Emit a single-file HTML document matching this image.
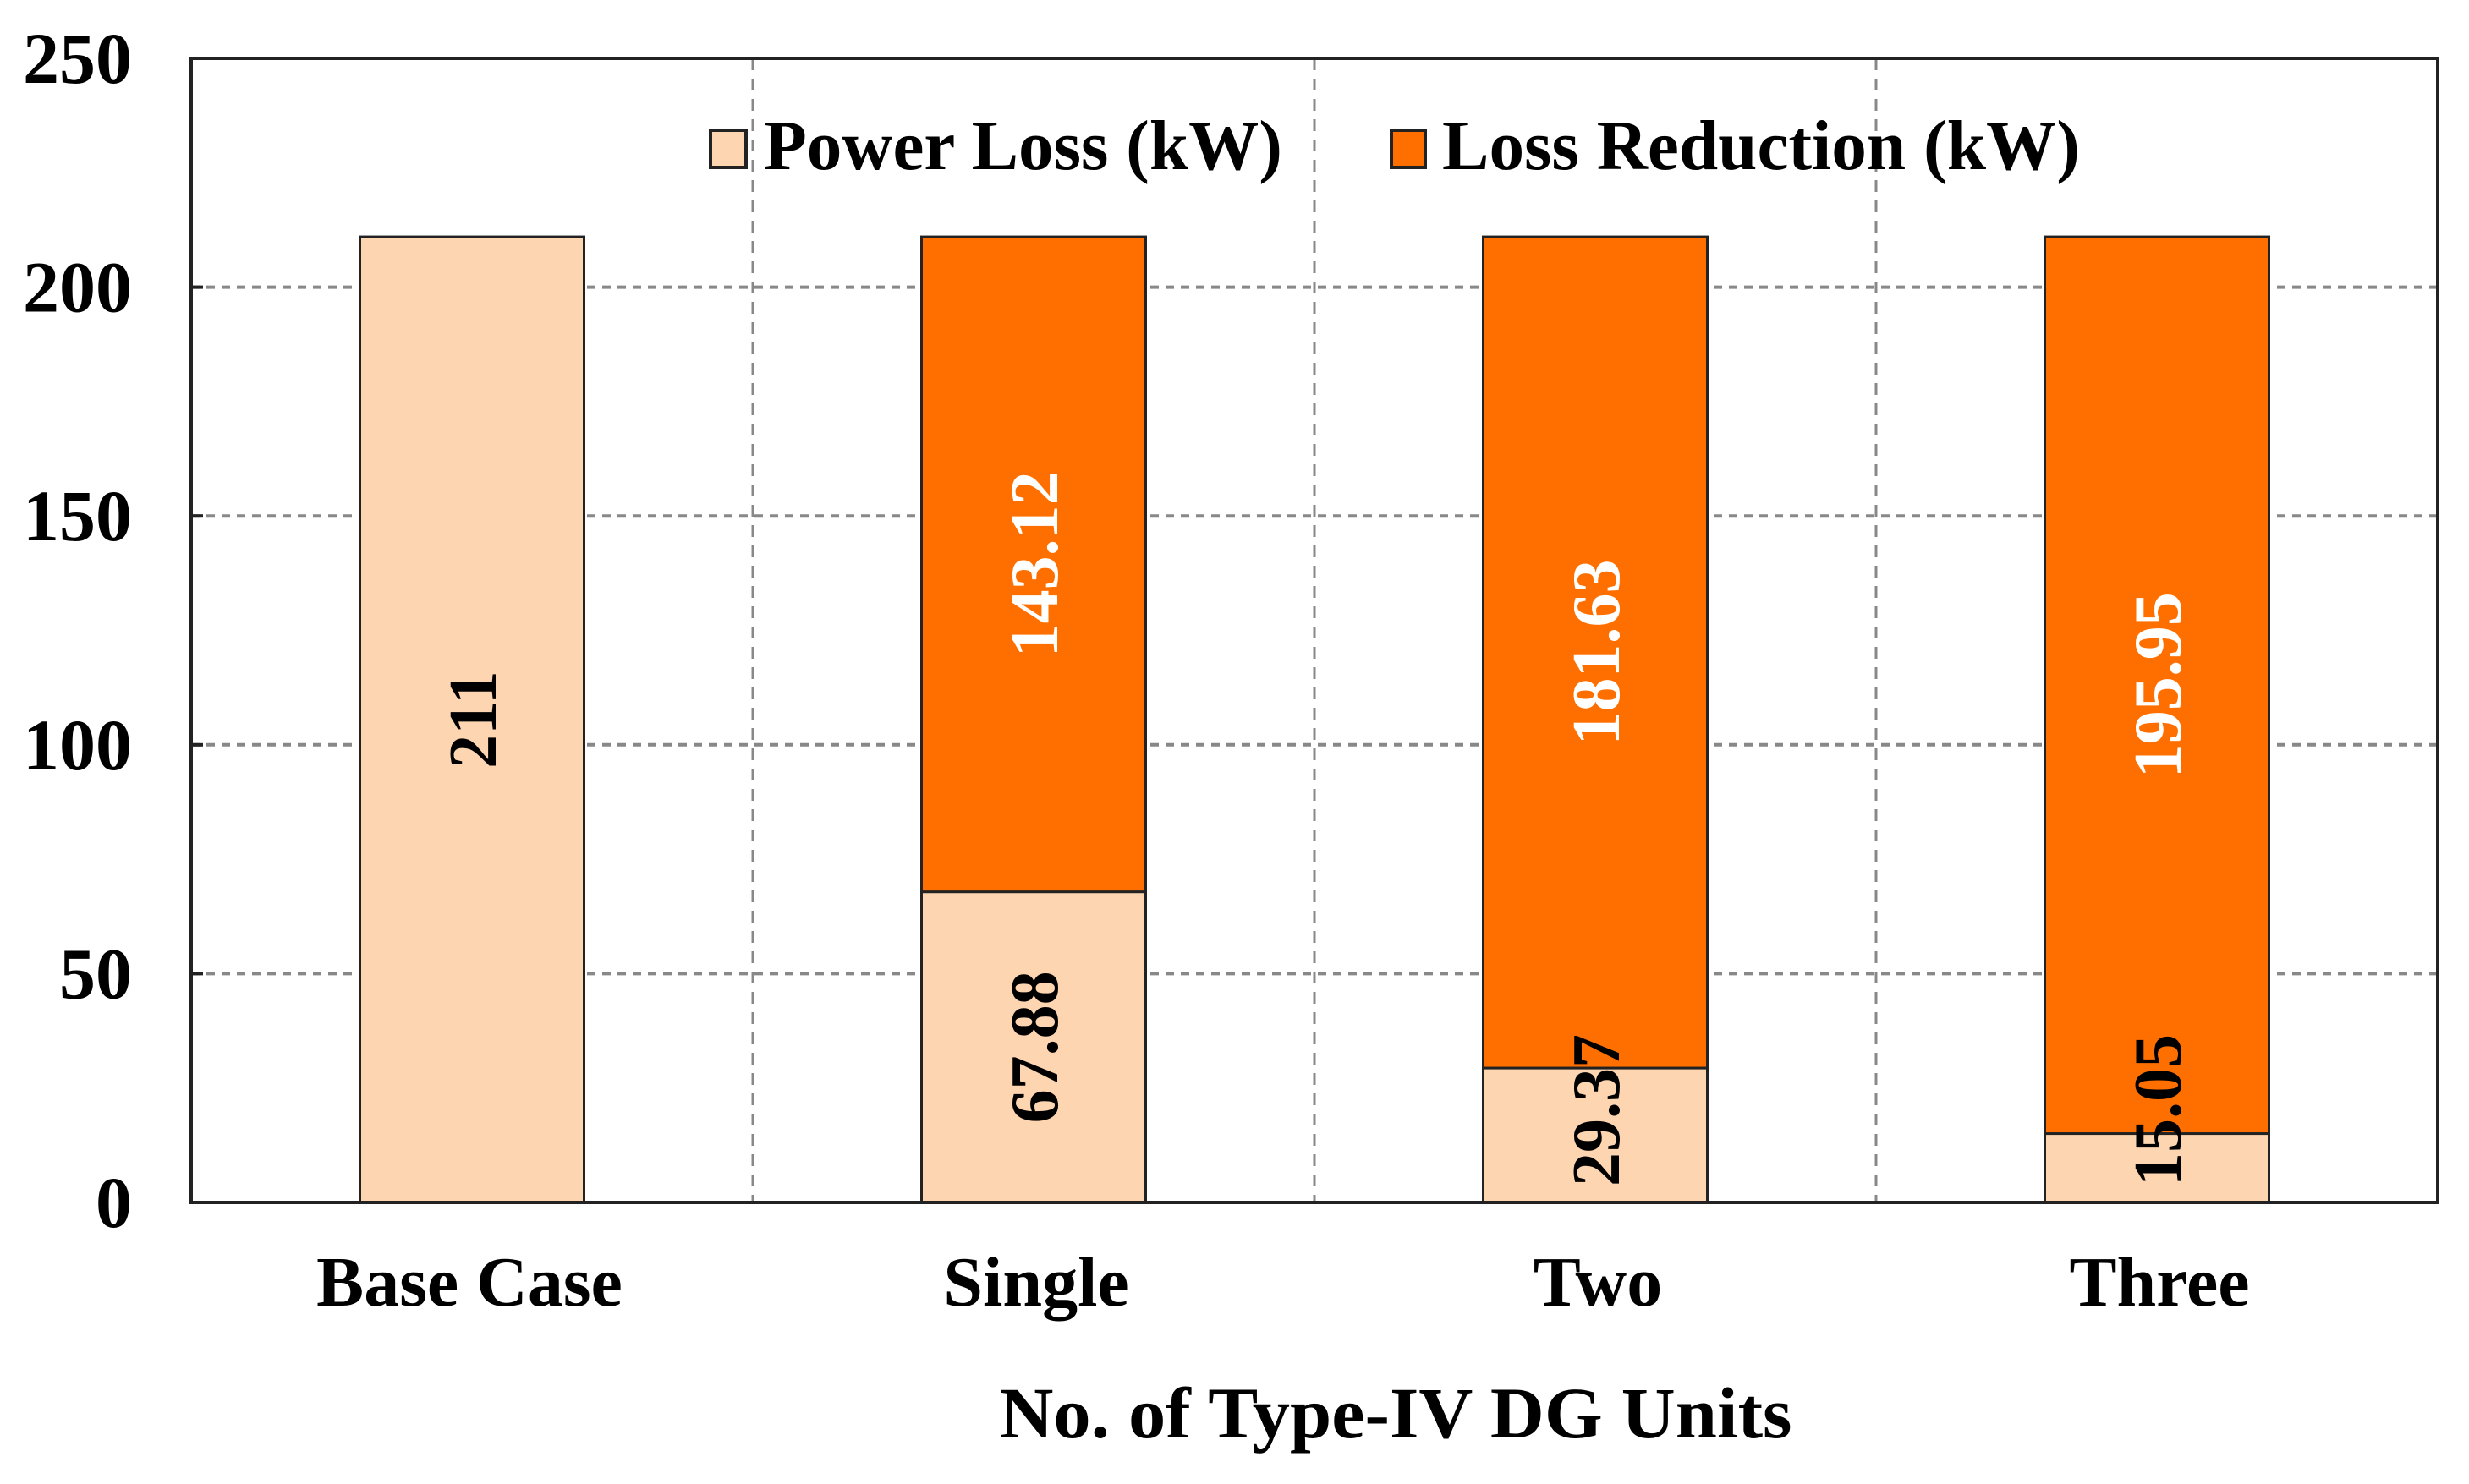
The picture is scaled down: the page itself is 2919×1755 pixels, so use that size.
<!DOCTYPE html>
<html><head><meta charset="utf-8"><style>
html,body{margin:0;padding:0;background:#fff;}
svg{display:block;font-family:"Liberation Serif",serif;font-weight:bold;}
</style></head><body>
<svg id="chart" width="2919" height="1755" viewBox="0 0 2919 1755" xmlns="http://www.w3.org/2000/svg">
<g id="grid"></g>
<g id="bars"></g>
<g id="labels"></g>
<rect x="226" y="69" width="2656" height="1353" fill="none" stroke="#222" stroke-width="4"/>
<g id="yticks"></g>
<g id="xticks"></g>
<text x="1650" y="1700" font-size="86" text-anchor="middle" textLength="937" lengthAdjust="spacingAndGlyphs">No. of Type-IV DG Units</text>
<g>
<g>
<rect x="840" y="154" width="42" height="44" fill="#FDD5B1" stroke="#222" stroke-width="4"/>
<text x="903" y="200" font-size="84" textLength="613" lengthAdjust="spacingAndGlyphs">Power Loss (kW)</text>
</g>
<g>
<rect x="1645" y="154" width="40" height="44" fill="#FF6F00" stroke="#222" stroke-width="4"/>
<text x="1705" y="200" font-size="84" textLength="754" lengthAdjust="spacingAndGlyphs">Loss Reduction (kW)</text>
</g>
</g>
</svg>
<script>
const categories = ["Base Case", "Single", "Two", "Three"];
const powerLoss = [211, 67.88, 29.37, 15.05];
const lossReduction = [0, 143.12, 181.63, 195.95];
const powerLossLabels = ["211", "67.88", "29.37", "15.05"];
const reductionLabels = ["", "143.12", "181.63", "195.95"];
const yTicks = [0, 50, 100, 150, 200, 250];

const NS = "http://www.w3.org/2000/svg";
const L = 226, R = 2882, T = 69, B = 1422, yMax = 250;
const band = (R - L) / categories.length;
const barW = 265;
function y(v){ return B - (v / yMax) * (B - T); }
function xc(i){ return L + band * (i + 0.5); }
function mk(tag, attrs, parent){
  const e = document.createElementNS(NS, tag);
  for (const k in attrs) e.setAttribute(k, attrs[k]);
  parent.appendChild(e);
  return e;
}
const grid = document.getElementById('grid');
const bars = document.getElementById('bars');
const labels = document.getElementById('labels');
const yt = document.getElementById('yticks');
const xt = document.getElementById('xticks');

yTicks.forEach(v => {
  if (v > 0 && v < yMax) {
    const g = mk('line', {x1:L, x2:R, y1:y(v), y2:y(v), stroke:'#888', 'stroke-width':4, 'stroke-dasharray':'10 8'}, grid);
    
    
  }
  const tk = mk('line', {x1:L, x2:L+14, y1:y(v), y2:y(v), stroke:'#222', 'stroke-width':4}, yt);
  
  
  const t = mk('text', {x:156, y:y(v)+29, 'font-size':86, 'text-anchor':'end'}, yt);
  
  
  t.textContent = v;
});
for (let i = 1; i < categories.length; i++) {
  const gx = L + band * i;
  const g = mk('line', {x1:gx, x2:gx, y1:T, y2:B, stroke:'#888', 'stroke-width':3, 'stroke-dasharray':'14 10'}, grid);
  
  
}
categories.forEach((c, i) => {
  const x0 = xc(i) - barW / 2;
  const p = mk('rect', {x:x0, y:y(powerLoss[i]), width:barW, height:B - y(powerLoss[i]), fill:'#FDD5B1', stroke:'#222', 'stroke-width':3}, bars);
  
  
  if (lossReduction[i] > 0) {
    const top = powerLoss[i] + lossReduction[i];
    const r = mk('rect', {x:x0, y:y(top), width:barW, height:y(powerLoss[i]) - y(top), fill:'#FF6F00', stroke:'#222', 'stroke-width':3}, bars);
    
    
    const cy2 = y(powerLoss[i] + lossReduction[i] / 2);
    const t2 = mk('text', {x:0, y:0, 'font-size':80, fill:'#fff', 'text-anchor':'middle', transform:'translate(' + (xc(i)+28) + ',' + cy2 + ') rotate(-90)'}, labels);
    
    
    t2.textContent = reductionLabels[i];
  }
  const len = powerLossLabels[i].length * 40;
  let cy = y(powerLoss[i] / 2);
  cy = Math.min(cy, 1413 - len / 2);
  const t = mk('text', {x:0, y:0, 'font-size':80, fill:'#000', 'text-anchor':'middle', transform:'translate(' + (xc(i)+28) + ',' + cy + ') rotate(-90)'}, labels);
  
  
  t.textContent = powerLossLabels[i];
  const xl = mk('text', {x:xc(i) + (i === 0 ? -3 : 3), y:1544, 'font-size':84, 'text-anchor':'middle'}, xt);
  
  
  xl.textContent = c;
});
</script>
</body></html>
